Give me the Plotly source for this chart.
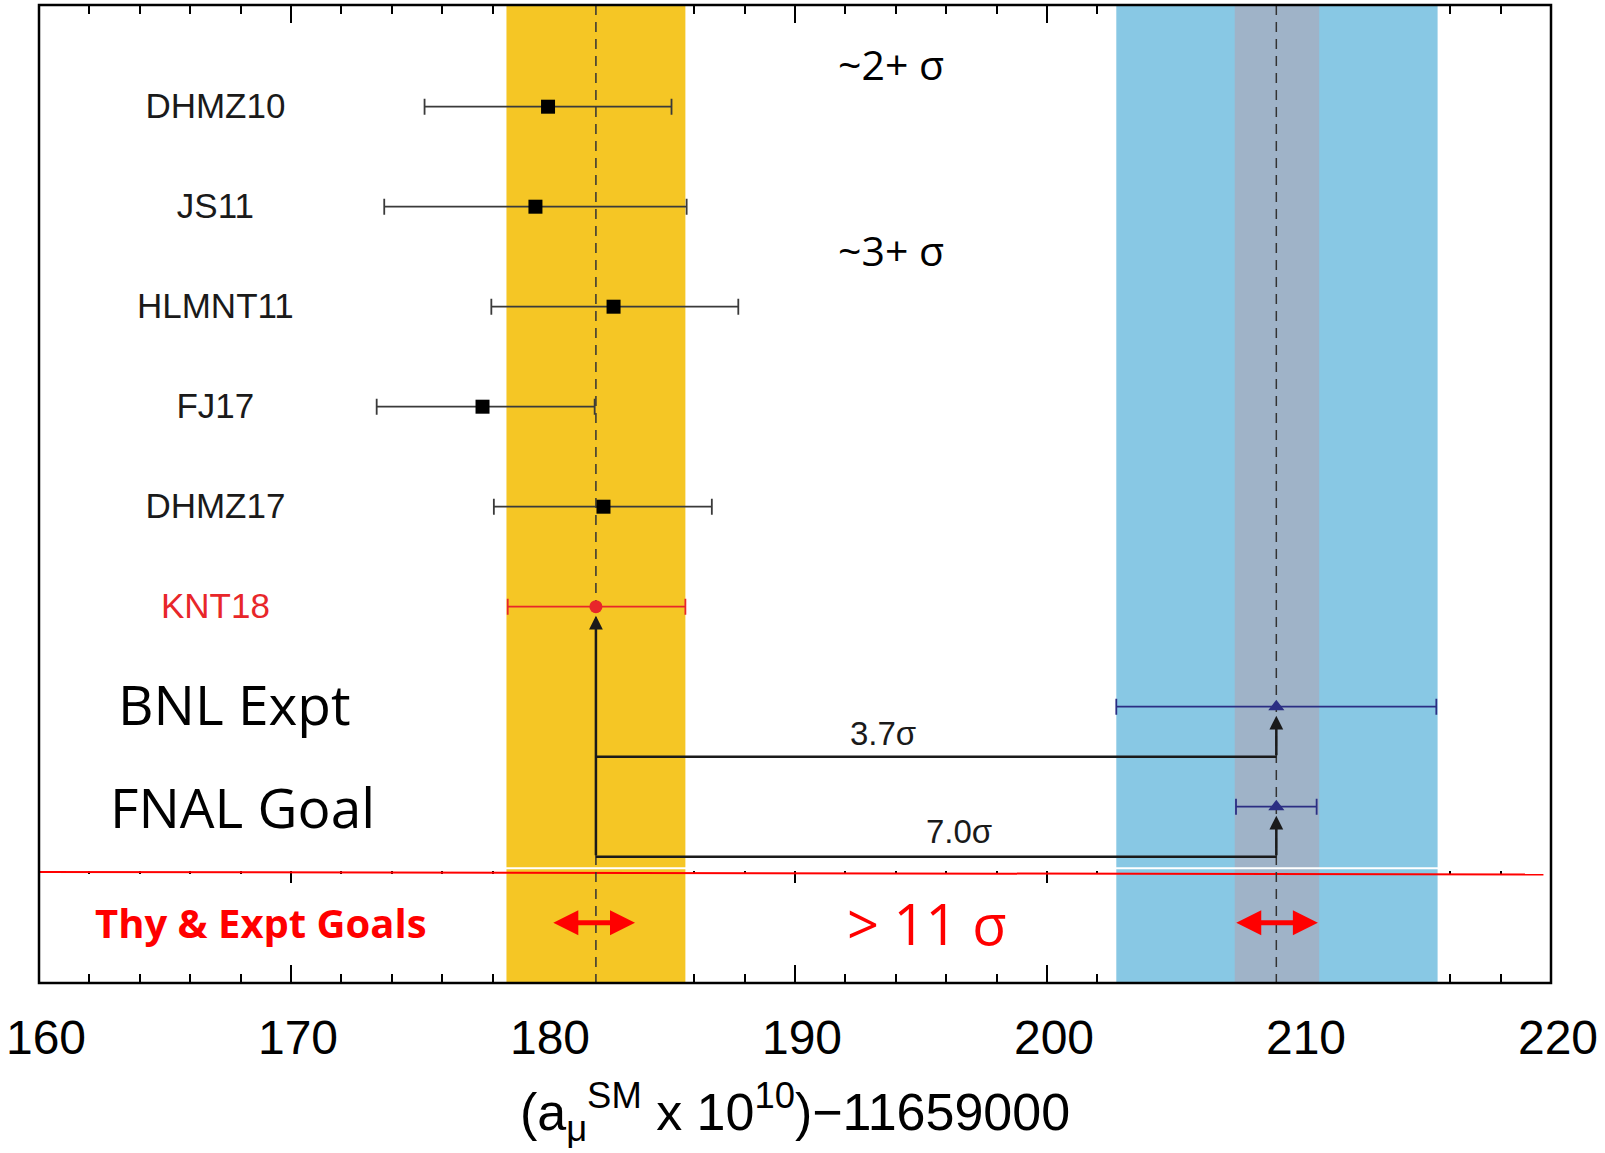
import plotly.graph_objects as go

# ---------------- data ----------------
labels = ["DHMZ10", "JS11", "HLMNT11", "FJ17", "DHMZ17", "KNT18"]
values = [180.2, 179.7, 182.8, 177.6, 182.4, 182.1]
err_minus = [4.9, 6.0, 4.85, 4.2, 4.35, 3.5]
err_plus = [4.9, 6.0, 4.95, 4.45, 4.3, 3.55]
label_colors = ["#1a1a1a", "#1a1a1a", "#1a1a1a", "#1a1a1a", "#1a1a1a", "#e8262a"]

expt_labels = ["BNL Expt", "FNAL Goal"]
expt_values = [209.1, 209.1]
expt_err = [6.35, 1.6]
sigma_labels = ["3.7σ", "7.0σ"]
tension_labels = ["~2+ σ", "~3+ σ"]

theory_band = [178.55, 185.65]
expt_band = [202.75, 215.5]
goal_band = [207.45, 210.8]
goal_centers = [182.0, 209.1]
goal_halfwidth = [1.65, 1.65]

x_ticks = [160, 170, 180, 190, 200, 210, 220]

# row positions (category index) and layout helpers
theory_rows = list(range(len(labels)))
expt_rows = [6, 7]
connector_rows = [6.5, 7.5]
goals_row = 8.16
Y_TOP, Y_BOT = -1.017, 8.763
seam_row = 7.615
red_line_rows = [7.653, 7.678]
label_row_offset = 0.03

fig = go.Figure()

def band(lo, hi, color):
    fig.add_trace(go.Scatter(
        x=[lo, hi, hi, lo, lo], y=[Y_BOT, Y_BOT, Y_TOP, Y_TOP, Y_BOT],
        fill="toself", fillcolor=color, mode="lines", line=dict(width=0),
        hoverinfo="skip", showlegend=False))

band(expt_band[0], expt_band[1], "#88c8e4")
band(goal_band[0], goal_band[1], "#9fb3c8")
band(theory_band[0], theory_band[1], "#f5c625")

# seam (white) and red separator line
fig.add_trace(go.Scatter(x=[x_ticks[0], x_ticks[-1]], y=[seam_row, seam_row], mode="lines",
                         line=dict(color="white", width=2), xaxis="x2",
                         hoverinfo="skip", showlegend=False))
fig.add_trace(go.Scatter(x=[x_ticks[0], 219.7], y=red_line_rows, mode="lines",
                         line=dict(color="#ff0000", width=2),
                         hoverinfo="skip", showlegend=False))

# dashed central lines
for v in [values[-1], expt_values[0]]:
    fig.add_trace(go.Scatter(x=[v, v], y=[Y_TOP, Y_BOT], mode="lines",
                             line=dict(color="#333333", width=1.5, dash="10px,7px"),
                             hoverinfo="skip", showlegend=False))

# connector horizontal lines
for cy, ev in zip(connector_rows, expt_values):
    fig.add_trace(go.Scatter(x=[values[-1], ev], y=[cy, cy], mode="lines",
                             line=dict(color="#1a1a1a", width=2.5),
                             hoverinfo="skip", showlegend=False))

# theory points
fig.add_trace(go.Scatter(
    x=values[:5], y=theory_rows[:5], mode="markers",
    marker=dict(symbol="square", size=14, color="black"),
    error_x=dict(type="data", symmetric=False, array=err_plus[:5], arrayminus=err_minus[:5],
                 color="#3a3a3a", thickness=1.8, width=8),
    showlegend=False))
fig.add_trace(go.Scatter(
    x=values[5:], y=theory_rows[5:], mode="markers",
    marker=dict(symbol="circle", size=13, color="#e8262a"),
    error_x=dict(type="data", symmetric=False, array=err_plus[5:], arrayminus=err_minus[5:],
                 color="#e8262a", thickness=1.8, width=8),
    showlegend=False))
fig.add_trace(go.Scatter(
    x=expt_values, y=expt_rows, mode="markers",
    marker=dict(symbol="triangle-up", size=14, color="#2b2e83"),
    error_x=dict(type="data", array=expt_err, color="#2b2e83", thickness=1.8, width=8),
    showlegend=False))

# row labels
fig.add_trace(go.Scatter(
    x=[167.0] * len(labels), y=[r + label_row_offset for r in theory_rows], mode="text",
    text=labels,
    textfont=dict(family="Liberation Sans", size=35, color=label_colors),
    textposition="middle center", hoverinfo="skip", showlegend=False))

ann = []
# arrows: theory -> expt
ann.append(dict(x=values[-1], y=theory_rows[-1] + 0.09, ax=values[-1], ay=connector_rows[-1],
                xref="x", yref="y", axref="x", ayref="y", text="", showarrow=True,
                arrowhead=2, arrowsize=1.1, arrowwidth=2.5, arrowcolor="#1a1a1a"))
for cy, ev, er in zip(connector_rows, expt_values, expt_rows):
    ann.append(dict(x=ev, y=er + 0.09, ax=ev, ay=cy, xref="x", yref="y", axref="x", ayref="y",
                    text="", showarrow=True, arrowhead=2, arrowsize=1.1, arrowwidth=2.5,
                    arrowcolor="#1a1a1a"))
# red double arrows (goals)
for c, h in zip(goal_centers, goal_halfwidth):
    ann.append(dict(x=c + h, y=goals_row, ax=c - h, ay=goals_row, xref="x", yref="y",
                    axref="x", ayref="y", text="", showarrow=True, arrowhead=2,
                    arrowside="end+start", arrowsize=1.0, arrowwidth=5, arrowcolor="#ff0000"))

# texts
for t, xx, yy in zip(expt_labels, [167.75, 168.06], [5.97, 7.0]):
    ann.append(dict(x=xx, y=yy, xref="x", yref="y", text=t, showarrow=False,
                    font=dict(family="Open Sans", size=55, color="black")))
ann.append(dict(x=168.8, y=goals_row, xref="x", yref="y", text="<b>Thy &amp; Expt Goals</b>",
                showarrow=False, font=dict(family="Open Sans", size=40, color="#ff0000")))
ann.append(dict(x=195.2, y=goals_row, xref="x", yref="y", text="&gt; 11 σ",
                showarrow=False, font=dict(family="Open Sans", size=56, color="#ff0000")))
for t, yy in zip(tension_labels, [-0.43, 1.43]):
    ann.append(dict(x=193.8, y=yy, xref="x", yref="y", text=t, showarrow=False,
                    font=dict(family="Open Sans", size=41, color="black")))
for t, xx, yy in zip(sigma_labels, [193.5, 196.5], [6.263, 7.243]):
    ann.append(dict(x=xx, y=yy, xref="x", yref="y", text=t, showarrow=False,
                    font=dict(family="Liberation Sans", size=33, color="#1a1a1a")))

fig.update_layout(
    width=1605, height=1153,
    margin=dict(l=39, r=54, t=5, b=170),
    paper_bgcolor="white", plot_bgcolor="white",
    annotations=ann,
    shapes=[dict(type="rect", xref="paper", yref="paper", x0=0, x1=1, y0=0, y1=1,
                 line=dict(color="black", width=2.5), fillcolor="rgba(0,0,0,0)", layer="above")],
    xaxis=dict(range=[x_ticks[0], x_ticks[-1]], tickmode="array", tickvals=x_ticks,
               ticks="inside", ticklen=18, tickwidth=1.8, tickcolor="black", mirror="ticks",
               minor=dict(dtick=2, tick0=160, ticks="inside", ticklen=9, tickwidth=1.8,
                          tickcolor="black"),
               showline=False, showgrid=False, zeroline=False, layer="below traces",
               tickfont=dict(family="Liberation Sans", size=48, color="black"),
               ticklabelstandoff=22, ticklabelshift=7, ticklabeloverflow="allow",
               title=dict(text="(a<sub>μ</sub><sup>SM</sup> x 10<sup>10</sup>)−11659000",
                          font=dict(family="Liberation Sans", size=52, color="black"),
                          standoff=30)),
    xaxis2=dict(overlaying="x", anchor="free", position=0.1155, side="top",
                range=[x_ticks[0], x_ticks[-1]], tickmode="array", tickvals=x_ticks,
                ticks="inside", ticklen=12, tickwidth=1.5, tickcolor="black",
                minor=dict(dtick=2, tick0=160, ticks="inside", ticklen=3, tickwidth=1.5,
                           tickcolor="black"),
                showticklabels=False, showgrid=False, zeroline=False, showline=False,
                layer="below traces"),
    yaxis=dict(range=[Y_BOT, Y_TOP], visible=False, showgrid=False, zeroline=False),
)

fig.write_html("out.html")
